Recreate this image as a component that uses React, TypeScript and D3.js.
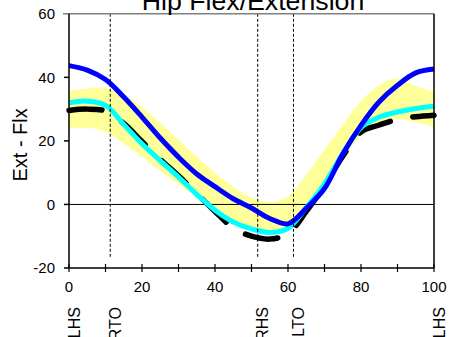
import React from 'react';
import * as d3 from 'd3';

const pct = [0, 5, 10, 15, 20, 25, 30, 35, 40, 45, 50, 55, 60, 65, 70, 75, 80, 85, 90, 95, 100];
const bandUpper = [35.7, 36.5, 36.6, 34.6, 30.6, 25.6, 20.3, 15.0, 10.0, 5.6, 2.2, 0.7, 2.6, 9.4, 17.2, 25.2, 32.5, 37.5, 39.6, 37.2, 35.4];
const bandLower = [23.8, 24.1, 22.8, 19.2, 15.0, 10.6, 6.3, 2.2, -1.7, -5.0, -7.1, -8.2, -7.0, -2.6, 4.6, 13.6, 21.8, 25.4, 26.8, 25.9, 24.4];
const normalMean = [29.6, 30.0, 29.4, 25.5, 19.8, 14.2, 9.0, 3.4, -2.2, -7.4, -10.0, -10.9, -9.2, -2.2, 6.0, 15.2, 22.8, 25.0, 26.8, 27.6, 28.1];
const cyanSide = [32.0, 32.5, 31.2, 25.2, 19.1, 13.8, 8.6, 3.2, -1.8, -5.5, -7.7, -8.8, -7.5, -1.0, 6.5, 16.0, 24.2, 27.5, 29.1, 30.2, 30.9];
const blueSide = [43.7, 42.3, 39.3, 33.8, 27.5, 20.9, 14.9, 9.6, 5.6, 1.8, -1.1, -4.4, -6.1, -1.2, 5.0, 15.9, 24.9, 32.3, 37.5, 41.4, 42.6];

const xTicksMajor = [0, 20, 40, 60, 80, 100];
const xTicksAll = [0, 10, 20, 30, 40, 50, 60, 70, 80, 90, 100];
const yTicks = [60, 40, 20, 0, -20];
const eventNames = ['LHS', 'RTO', 'RHS', 'LTO', 'LHS'];
const eventPos = [0, 11.3, 51.7, 61.5, 100];
const dashedEvents = [11.3, 51.7, 61.5];

const FONT = '"Liberation Sans", Arial, Helvetica, sans-serif';

export default function App() {
  const W = 450, H = 337;
  const left = 69, right = 434, top = 13.8, bottom = 268;
  const x = d3.scaleLinear().domain([0, 100]).range([left, right]);
  const y = d3.scaleLinear().domain([-20, 60]).range([bottom, top]);

  const idx = pct.map((_, i) => i);
  const curve = d3.curveCatmullRom.alpha(0.5);
  const area = d3.area<number>()
    .x(i => x(pct[i]))
    .y0(i => y(bandLower[i]))
    .y1(i => y(bandUpper[i]))
    .curve(curve);
  const lineOf = (vals: number[]) =>
    d3.line<number>().x(i => x(pct[i])).y(i => y(vals[i])).curve(curve)(idx) || '';

  return (
    <svg width={W} height={H} style={{ position: 'absolute', left: 0, top: 0, display: 'block' }}
      fontFamily={FONT}>
      <rect x={0} y={0} width={W} height={H} fill="#ffffff" />
      <path d={area(idx) || ''} fill="#ffff99" stroke="none" />
      <line x1={x(0) - 4} x2={x(100)} y1={y(0)} y2={y(0)} stroke="#000" strokeWidth={1} />
      <path d={lineOf(normalMean)} fill="none" stroke="#000" strokeWidth={5.5}
        strokeDasharray="33,23" strokeLinecap="round" />
      <path d={lineOf(cyanSide)} fill="none" stroke="#00ffff" strokeWidth={5} strokeLinejoin="round" />
      <path d={lineOf(blueSide)} fill="none" stroke="#0000ff" strokeWidth={5} strokeLinejoin="round" />
      {dashedEvents.map((e, i) => (
        <line key={'ev' + i} x1={x(e)} x2={x(e)} y1={y(60)} y2={y(-17)} stroke="#000"
          strokeWidth={1} strokeDasharray="3,2" />
      ))}
      <line x1={x(0) - 6} x2={x(100)} y1={top} y2={top} stroke="#808080" strokeWidth={1.5} />
      <line x1={left} x2={left} y1={top} y2={bottom} stroke="#000" strokeWidth={1.5} />
      <line x1={right} x2={right} y1={top} y2={bottom} stroke="#000" strokeWidth={1.5} />
      <line x1={left} x2={right} y1={bottom} y2={bottom} stroke="#000" strokeWidth={1.5} />
      {yTicks.filter(t => t !== 60).map(t => (
        <line key={'yt' + t} x1={left - 5} x2={left} y1={y(t)} y2={y(t)} stroke="#000" strokeWidth={1.5} />
      ))}
      {xTicksAll.map(t => (
        <line key={'xt' + t} x1={x(t)} x2={x(t)} y1={bottom - 4} y2={bottom + 4} stroke="#000" strokeWidth={1.2} />
      ))}
      {yTicks.map(t => (
        <text key={'yl' + t} x={55} y={y(t) + 5.3} textAnchor="end" fontSize={15} fill="#000">{t}</text>
      ))}
      {xTicksMajor.map(t => (
        <text key={'xl' + t} x={x(t)} y={291.7} textAnchor="middle" fontSize={15} fill="#000">{t}</text>
      ))}
      {eventNames.map((n, i) => (
        <text key={'en' + i} transform={`translate(${x(eventPos[i]) + 10.5},307) rotate(-90)`}
          textAnchor="end" fontSize={16} fill="#000">{n}</text>
      ))}
      <text x={253} y={10} textAnchor="middle" fontSize={26.7} fill="#000">Hip Flex/Extension</text>
      <text transform={`translate(27,${(top + bottom) / 2 + 4}) rotate(-90)`} textAnchor="middle"
        fontSize={20} fill="#000">Ext - Flx</text>
    </svg>
  );
}
